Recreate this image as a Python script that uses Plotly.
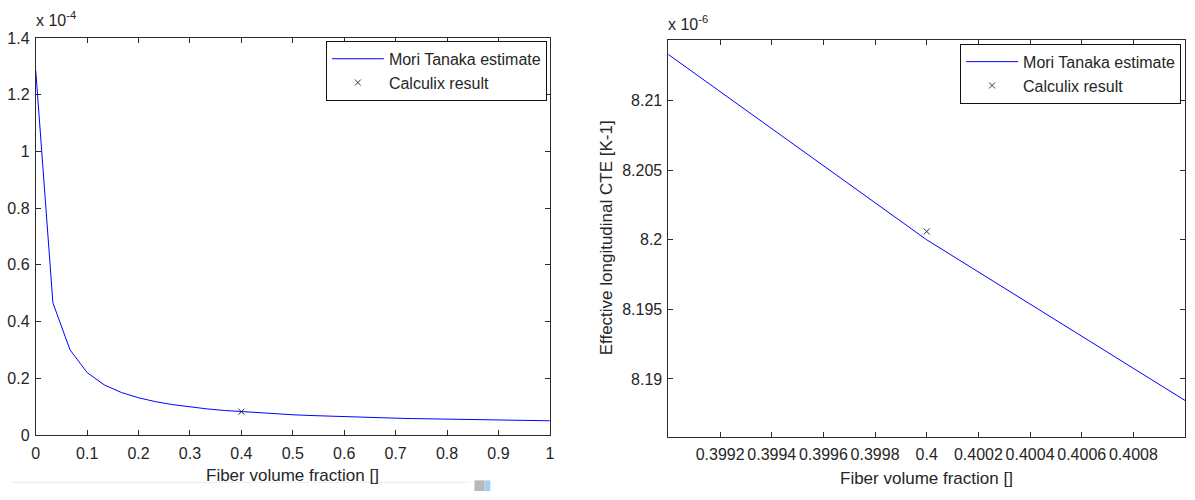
import plotly.graph_objects as go

# ---------------- data ----------------
# fiber volume fraction grid used for the Mori-Tanaka estimate
vf = [k / 30 for k in range(31)]
# Mori-Tanaka effective longitudinal CTE, in 1e-6 K^-1
cte_mt = [128.5, 46.6, 30.0, 22.0, 17.65, 14.97, 13.11, 11.73, 10.69, 9.86,
          9.19, 8.644, 8.200, 7.806, 7.43, 7.13, 6.87, 6.64, 6.43, 6.24,
          6.08, 5.92, 5.78, 5.66, 5.54, 5.43, 5.33, 5.24, 5.15, 5.07, 5.00]
# Calculix FE result
calc_vf = [0.4]
calc_cte = [8.2006]  # 1e-6 K^-1

left_xticks = [0, 0.1, 0.2, 0.3, 0.4, 0.5, 0.6, 0.7, 0.8, 0.9, 1]
left_yticks = [0, 0.2, 0.4, 0.6, 0.8, 1.0, 1.2, 1.4]
right_xticks = [0.3992, 0.3994, 0.3996, 0.3998, 0.4, 0.4002, 0.4004, 0.4006, 0.4008]
right_yticks = [8.19, 8.195, 8.2, 8.205, 8.21]

W, H = 1195, 500
FONT = "Liberation Sans, Arial, sans-serif"
TXT = "#262626"
AX = "#2b2b2b"

fig = go.Figure()

# left plot (scaled to 1e-4)
fig.add_trace(go.Scatter(x=vf, y=[v / 100 for v in cte_mt], mode="lines",
                         line=dict(color="#0000ff", width=1),
                         name="Mori Tanaka estimate", xaxis="x", yaxis="y",
                         legend="legend"))
fig.add_trace(go.Scatter(x=calc_vf, y=[v / 100 for v in calc_cte], mode="markers",
                         marker=dict(symbol="x-thin", size=6,
                                     line=dict(color="#333333", width=1)),
                         name="Calculix result", xaxis="x", yaxis="y",
                         legend="legend"))
# right plot (scaled to 1e-6)
fig.add_trace(go.Scatter(x=vf, y=cte_mt, mode="lines",
                         line=dict(color="#0000ff", width=1),
                         name="Mori Tanaka estimate", xaxis="x2", yaxis="y2",
                         legend="legend2"))
fig.add_trace(go.Scatter(x=calc_vf, y=calc_cte, mode="markers",
                         marker=dict(symbol="x-thin", size=6,
                                     line=dict(color="#333333", width=1)),
                         name="Calculix result", xaxis="x2", yaxis="y2",
                         legend="legend2"))

axis_common = dict(showline=True, linecolor=AX, linewidth=1, mirror="ticks",
                   ticks="inside", ticklen=5, tickcolor=AX, tickwidth=1,
                   showgrid=False, zeroline=False,
                   tickfont=dict(family=FONT, size=16, color=TXT))

fig.update_layout(
    width=W, height=H, margin=dict(l=0, r=0, t=0, b=0),
    paper_bgcolor="white", plot_bgcolor="white",
    font=dict(family=FONT, size=16, color=TXT),
    xaxis=dict(domain=[32 / W, 550 / W], range=[0, 1], tickvals=left_xticks,
               anchor="y", ticklabelstandoff=4, **axis_common),
    yaxis=dict(domain=[1 - 442 / H, 1 - 31 / H], range=[0, 1.4], tickvals=left_yticks,
               anchor="x", ticklabelstandoff=2, **axis_common),
    xaxis2=dict(domain=[669.5 / W, 1190 / W], range=[0.399, 0.401], tickvals=right_xticks,
                anchor="y2", ticklabelstandoff=3, **axis_common),
    yaxis2=dict(domain=[1 - 444 / H, 1 - 33 / H], range=[8.18583, 8.214375],
                tickvals=right_yticks, anchor="x2", ticklabelstandoff=2, **axis_common),
    legend=dict(x=547 / W, y=1 - 34 / H, xanchor="right", yanchor="top",
                bgcolor="white", bordercolor="#111111", borderwidth=1,
                font=dict(family=FONT, size=16, color=TXT),
                itemwidth=52, tracegroupgap=0),
    legend2=dict(x=1186 / W, y=1 - 37 / H, xanchor="right", yanchor="top",
                 bgcolor="white", bordercolor="#111111", borderwidth=1,
                 font=dict(family=FONT, size=16, color=TXT),
                 itemwidth=52, tracegroupgap=0),
    showlegend=True,
)

ann = [
    dict(text="x 10<sup>-4</sup>", x=30 / W, y=1 - 24 / H, xanchor="left", yanchor="bottom", size=16),
    dict(text="x 10<sup>-6</sup>", x=667 / W, y=1 - 28 / H, xanchor="left", yanchor="bottom", size=16),
    dict(text="Fiber volume fraction []", x=291 / W, y=1 - 484 / H, xanchor="center", yanchor="middle", size=17),
    dict(text="Fiber volume fraction []", x=930 / W, y=1 - 487 / H, xanchor="center", yanchor="middle", size=17),
    dict(text="Effective longitudinal CTE [K-1]", x=607 / W, y=1 - 238 / H, xanchor="center",
         yanchor="middle", textangle=-90, size=17),
]
for a in ann:
    sz = a.pop("size")
    fig.add_annotation(xref="paper", yref="paper", showarrow=False,
                       font=dict(family=FONT, size=sz, color=TXT), **a)

# small screenshot artefacts at bottom
fig.add_shape(type="line", xref="paper", yref="paper", x0=8 / W, x1=470 / W,
              y0=1 - 491 / H, y1=1 - 491 / H, line=dict(color="#ececec", width=1))
fig.add_shape(type="rect", xref="paper", yref="paper", x0=474 / W, x1=484 / W,
              y0=0, y1=1 - 489 / H, line=dict(width=0), fillcolor="#b8b8b8")
fig.add_shape(type="rect", xref="paper", yref="paper", x0=484 / W, x1=490 / W,
              y0=0, y1=1 - 489 / H, line=dict(width=0), fillcolor="#a9cdf2")

fig.write_html("out.html")
